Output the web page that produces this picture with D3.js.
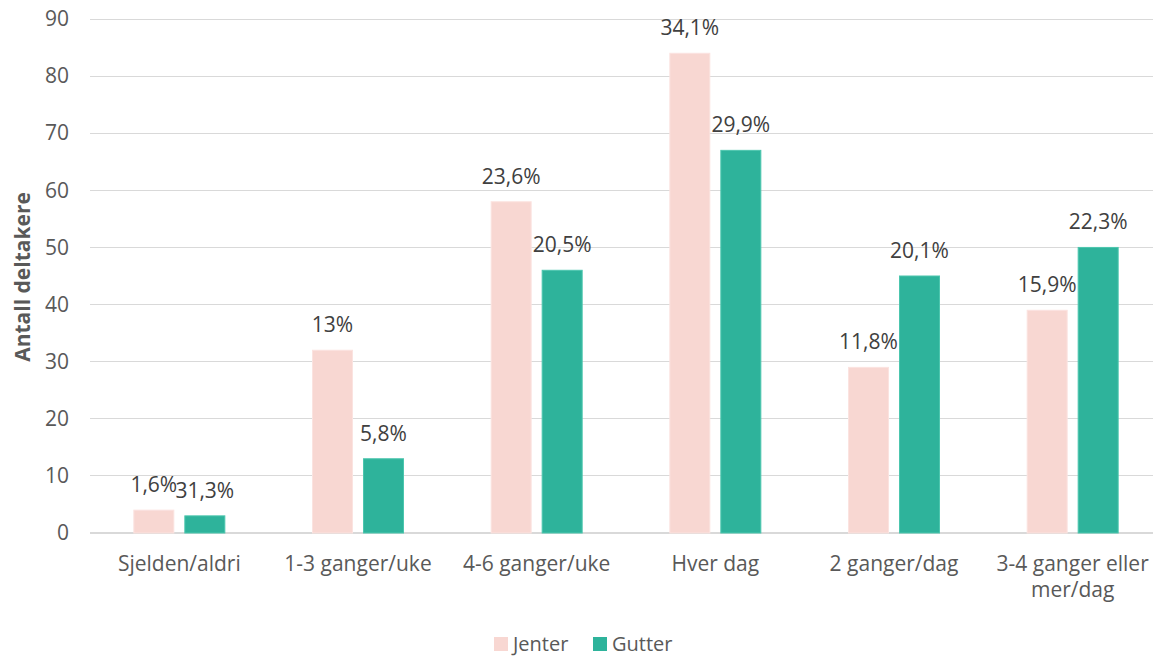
<!DOCTYPE html>
<html>
<head>
<meta charset="utf-8">
<script src="https://cdn.jsdelivr.net/npm/d3@7"></script>
<style>
  html, body { margin: 0; padding: 0; background: #fff; }
  svg { display: block; font-family: "Open Sans", "Noto Sans", sans-serif; }
</style>
</head>
<body>
<svg id="chart" width="1153" height="657"></svg>
<script>
// Frequency categories
const categories = ["Sjelden/aldri", "1-3 ganger/uke", "4-6 ganger/uke", "Hver dag", "2 ganger/dag", "3-4 ganger eller mer/dag"];
// Series names
const seriesNames = ["Jenter", "Gutter"];
// Number of participants per category
const jenterValues = [4, 32, 58, 84, 29, 39];
const gutterValues = [3, 13, 46, 67, 45, 50];
// Percentage labels shown above the bars
const jenterLabels = ["1,6%", "13%", "23,6%", "34,1%", "11,8%", "15,9%"];
const gutterLabels = ["31,3%", "5,8%", "20,5%", "29,9%", "20,1%", "22,3%"];
// Y axis ticks
const yTicks = [0, 10, 20, 30, 40, 50, 60, 70, 80, 90];

const colors = { Jenter: "#F8D7D2", Gutter: "#2EB39B" };
const strokes = { Jenter: "#FBE3E0", Gutter: "#4CC6AE" };

const FS = 21;
const svg = d3.select("#chart");
const W = 1153;
const plot = { left: 90, right: 1162, top: 19, bottom: 533 };

const x0 = d3.scaleBand().domain(categories).range([plot.left, plot.right]).padding(0);
const groupW = 91;
const x1 = d3.scaleBand().domain(seriesNames)
  .range([(x0.bandwidth() - groupW) / 2, (x0.bandwidth() + groupW) / 2])
  .paddingInner(11 / 51);
const y = d3.scaleLinear().domain([0, 90]).range([plot.bottom, plot.top]);

// Gridlines
svg.append("g").selectAll("line").data(yTicks).join("line")
  .attr("x1", plot.left).attr("x2", W)
  .attr("y1", d => y(d)).attr("y2", d => y(d))
  .attr("stroke", "#D9D9D9")
  .attr("stroke-width", d => d === 0 ? 1.5 : 1)
  .attr("shape-rendering", "crispEdges");

// Y axis tick labels
const yAxis = d3.axisLeft(y).tickValues(yTicks).tickSize(0).tickPadding(0);
const yg = svg.append("g").attr("transform", `translate(69,0)`).call(yAxis);
yg.select(".domain").remove();
yg.selectAll("text").attr("font-size", FS).attr("fill", "#595959")
  .attr("font-family", "'Open Sans', sans-serif");

// Y axis title
svg.append("text")
  .attr("transform", `translate(30,${(plot.top + plot.bottom) / 2 + 1}) rotate(-90)`)
  .attr("text-anchor", "middle")
  .attr("font-size", FS).attr("font-weight", "bold").attr("fill", "#595959")
  .text("Antall deltakere");

// Bars
const rows = categories.map((c, i) => ({
  cat: c,
  items: [
    { key: "Jenter", value: jenterValues[i], label: jenterLabels[i] },
    { key: "Gutter", value: gutterValues[i], label: gutterLabels[i] }
  ]
}));

const groups = svg.append("g").selectAll("g").data(rows).join("g")
  .attr("transform", d => `translate(${x0(d.cat)},0)`);

groups.selectAll("rect").data(d => d.items).join("rect")
  .attr("x", d => x1(d.key))
  .attr("y", d => y(d.value))
  .attr("width", x1.bandwidth())
  .attr("height", d => y(0) - y(d.value))
  .attr("fill", d => colors[d.key])
  .attr("stroke", d => strokes[d.key])
  .attr("stroke-width", 1);

// Value labels
groups.selectAll("text.val").data(d => d.items).join("text")
  .attr("class", "val")
  .attr("x", d => x1(d.key) + x1.bandwidth() / 2)
  .attr("y", d => y(d.value) - 18)
  .attr("text-anchor", "middle")
  .attr("font-size", FS).attr("fill", "#404040")
  .text(d => d.label);

// Category labels (wrapped)
const catLines = {
  "3-4 ganger eller mer/dag": ["3-4 ganger eller", "mer/dag"]
};
const xg = svg.append("g");
categories.forEach(c => {
  const lines = catLines[c] || [c];
  const t = xg.append("text")
    .attr("x", x0(c) + x0.bandwidth() / 2)
    .attr("y", 571)
    .attr("text-anchor", "middle")
    .attr("font-size", FS).attr("fill", "#595959");
  lines.forEach((l, j) => {
    t.append("tspan").attr("x", x0(c) + x0.bandwidth() / 2)
      .attr("dy", j === 0 ? 0 : 26).text(l);
  });
});

// Legend
const legend = svg.append("g");
const legendItems = [
  { key: "Jenter", x: 494 },
  { key: "Gutter", x: 593 }
];
legendItems.forEach(it => {
  legend.append("rect")
    .attr("x", it.x).attr("y", 637).attr("width", 14).attr("height", 14)
    .attr("fill", colors[it.key]);
  legend.append("text")
    .attr("x", it.x + 19).attr("y", 651)
    .attr("font-size", FS - 1).attr("fill", "#595959")
    .text(it.key);
});
</script>
</body>
</html>
